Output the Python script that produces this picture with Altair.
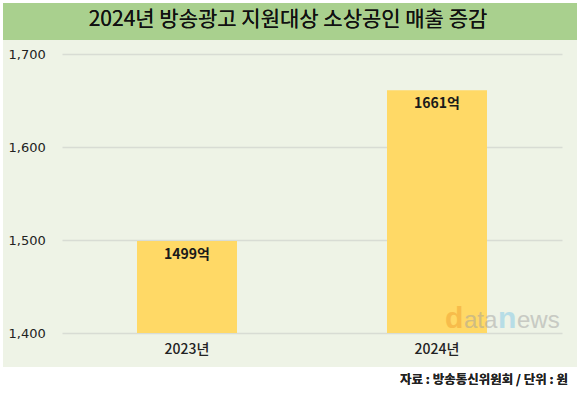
import altair as alt
import pandas as pd

years = ["2023년", "2024년"]
sales = [1499, 1661]
labels = ["1499억", "1661억"]
title_text = "2024년 방송광고 지원대상 소상공인 매출 증감"
source_text = "자료 : 방송통신위원회 / 단위 : 원"
y_ticks = [1400, 1500, 1600, 1700]

df = pd.DataFrame({"year": years, "sales": sales, "label": labels})

KR = "Noto Sans CJK KR"
W, H = 500, 279


def rect(color, x, x2, y, y2):
    return alt.Chart(df).mark_rect(color=color).encode(
        x=alt.value(x), x2=alt.value(x2), y=alt.value(y), y2=alt.value(y2)
    )


# frame pieces (white border + green title band), none overlapping the axes
top_white = rect("white", -62, 518, -54, -51)
left_white = rect("white", -62, -59, -54, 341)
right_white = rect("white", 515, 518, -54, 341)
bottom_white = rect("white", -62, 518, 313, 341)
band = rect("#a9d08e", -59, 515, -51, -14)

title = alt.Chart(df).mark_text(
    text=title_text, font=KR, fontSize=21, fontWeight="normal", color="#111111",
    align="center", baseline="middle"
).encode(x=alt.value(226), y=alt.value(-34))

source = alt.Chart(df).mark_text(
    text=source_text, font=KR, fontSize=12.5, fontWeight="bold", color="#222222",
    align="right", baseline="middle"
).encode(x=alt.value(506), y=alt.value(326))


def wm(txt, x, size, color, weight="normal"):
    return alt.Chart(df).mark_text(
        text=txt, font="Liberation Sans", fontSize=size, fontWeight=weight,
        color=color, opacity=0.28, align="left", baseline="alphabetic"
    ).encode(x=alt.value(x), y=alt.value(274))


wm_d = wm("d", 383, 30, "#f0a030", "bold")
wm_ata = wm("ata", 402, 24, "#a0a0a0")
wm_n = wm("n", 436, 30, "#7fc8e8", "bold")
wm_ews = wm("ews", 455, 24, "#a0a0a0")

axis_y = alt.Axis(values=y_ticks, labelExpr="format(datum.value, ',')",
                  ticks=False, domain=False, labelAlign="left", labelPadding=54,
                  labelFont="DejaVu Sans", labelFontSize=13, labelColor="#222222",
                  gridColor="#d8dcd4", gridWidth=1.5)

xenc = alt.X("year:N", sort=years, title=None,
             scale=alt.Scale(paddingInner=0.6, paddingOuter=0.3),
             axis=alt.Axis(labelAngle=0, ticks=False, domain=False, labelPadding=9,
                           labelFont=KR, labelFontSize=14, labelFontWeight=500,
                           labelColor="#222222"))
yenc = alt.Y("sales:Q", title=None,
             scale=alt.Scale(domain=[1400, 1700], zero=False, nice=False),
             axis=axis_y)

bars = alt.Chart(df).mark_bar(color="#ffd966").encode(
    x=xenc, y=yenc, y2=alt.datum(1400)
)
text = alt.Chart(df).mark_text(
    font=KR, fontSize=14, fontWeight="bold", color="#1a1a1a", baseline="top", dy=7
).encode(x=alt.X("year:N", sort=years), y=yenc, text="label:N")

chart = alt.layer(
    top_white, left_white, right_white, bottom_white, band, title,
    bars, text, wm_d, wm_ata, wm_n, wm_ews, source
).properties(
    width=W, height=H,
    padding={"left": 62, "top": 54, "right": 18, "bottom": 62},
    autosize=alt.AutoSizeParams(type="none"),
    background="#eef3e6",
).configure_view(stroke=None)

chart.save("out.html", embed_options={"renderer": "svg", "actions": False})
